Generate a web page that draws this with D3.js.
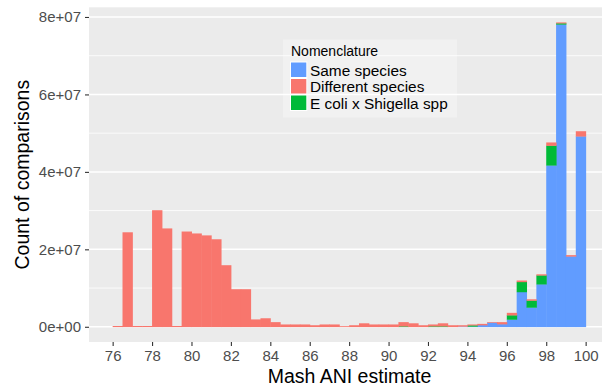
<!DOCTYPE html>
<html>
<head>
<meta charset="utf-8">
<script src="https://cdn.jsdelivr.net/npm/d3@7"></script>
<style>
  html, body { margin: 0; padding: 0; background: #ffffff; }
  svg { display: block; }
  text { font-family: "Liberation Sans", Arial, Helvetica, sans-serif; }
</style>
</head>
<body>
<svg id="chart" width="602" height="390"></svg>
<script>
// ---- data (counts in millions of comparisons), bins of width 0.5 ----
const binStarts = [76, 76.5, 77, 77.5, 78, 78.5, 79, 79.5, 80, 80.5, 81, 81.5,
                   82, 82.5, 83, 83.5, 84, 84.5, 85, 85.5, 86, 86.5, 87, 87.5,
                   88, 88.5, 89, 89.5, 90, 90.5, 91, 91.5, 92, 92.5, 93, 93.5,
                   94, 94.5, 95, 95.5, 96, 96.5, 97, 97.5, 98, 98.5, 99, 99.5];
const binWidth = 0.5;

const sameSpecies = [0, 0, 0, 0, 0, 0, 0, 0, 0, 0, 0, 0,
                     0, 0, 0, 0, 0, 0, 0, 0, 0, 0, 0, 0,
                     0, 0, 0, 0, 0, 0, 0, 0, 0, 0, 0, 0.1,
                     0.1, 0.45, 1.1, 0.7, 1.9, 9.0, 5.0, 11.0, 41.7, 78.1, 18.2, 49.2];

const differentSpecies = [0.2, 24.4, 0.2, 0.2, 30.1, 25.4, 0.2, 24.6, 24.1, 23.6, 22.6, 15.9,
                          9.7, 9.7, 1.9, 2.2, 1.2, 0.6, 0.6, 0.6, 0.4, 0.6, 0.6, 0.15,
                          0.4, 0.9, 0.6, 0.6, 0.6, 1.05, 0.9, 0.4, 0.45, 0.75, 0.4, 0.3,
                          0.2, 0.3, 0.1, 0.5, 0.6, 0.35, 0.3, 0.25, 0.8, 0.2, 0.3, 1.3];

const ecoliShigella = [0, 0, 0, 0, 0, 0, 0, 0, 0, 0, 0, 0,
                       0, 0, 0, 0, 0, 0, 0, 0, 0, 0, 0, 0,
                       0, 0, 0, 0, 0, 0.15, 0, 0, 0.15, 0.15, 0, 0,
                       0.3, 0, 0, 0, 1.1, 2.6, 1.8, 2.3, 5.1, 0.3, 0, 0];

const seriesNames = ["Same species", "Different species", "E coli x Shigella spp"];
const seriesColors = ["#619CFF", "#F8766D", "#00BA38"];
const stackOrder = ["Same species", "E coli x Shigella spp", "Different species"]; // bottom to top

const xTicks = [76, 78, 80, 82, 84, 86, 88, 90, 92, 94, 96, 98, 100];
const yTicks = [0, 2e7, 4e7, 6e7, 8e7];
const yTickLabels = ["0e+00", "2e+07", "4e+07", "6e+07", "8e+07"];
const yMinor = [1e7, 3e7, 5e7, 7e7];

// ---- build table ----
const rows = binStarts.map((b, i) => ({
  x0: b, x1: b + binWidth,
  "Same species": sameSpecies[i] * 1e6,
  "Different species": differentSpecies[i] * 1e6,
  "E coli x Shigella spp": ecoliShigella[i] * 1e6
}));
const colorOf = d3.scaleOrdinal().domain(seriesNames).range(seriesColors);

// ---- layout ----
const svg = d3.select("#chart");
const panel = { left: 89, right: 602, top: 7.3, bottom: 342 };

const x = d3.scaleLinear().domain([74.8, 100.83]).range([panel.left, panel.right]);
const y = d3.scaleLinear().domain([-3.93e6, 82.5e6]).range([panel.bottom, panel.top]);

// panel background
svg.append("rect")
  .attr("x", panel.left).attr("y", panel.top)
  .attr("width", panel.right - panel.left).attr("height", panel.bottom - panel.top)
  .attr("fill", "#EBEBEB");

// gridlines
svg.append("g").selectAll("line").data(yMinor).join("line")
  .attr("x1", panel.left).attr("x2", panel.right)
  .attr("y1", d => y(d)).attr("y2", d => y(d))
  .attr("stroke", "#ffffff").attr("stroke-width", 0.8);
svg.append("g").selectAll("line").data(yTicks).join("line")
  .attr("x1", panel.left).attr("x2", panel.right)
  .attr("y1", d => y(d)).attr("y2", d => y(d))
  .attr("stroke", "#ffffff").attr("stroke-width", 1.5);

// stacked bars (tiny horizontal overlap hides anti-alias seams between adjacent bins)
const stack = d3.stack().keys(stackOrder);
const layers = stack(rows);
svg.append("g")
  .selectAll("g").data(layers).join("g")
  .attr("fill", d => colorOf(d.key))
  .selectAll("rect").data(d => d.filter(s => s[1] - s[0] > 0)).join("rect")
  .attr("x", d => x(d.data.x0))
  .attr("width", d => x(d.data.x1) - x(d.data.x0) + 0.5)
  .attr("y", d => y(d[1]))
  .attr("height", d => y(d[0]) - y(d[1]) + 0.3);

// axes
const xAxis = d3.axisBottom(x).tickValues(xTicks).tickSize(4).tickPadding(4).tickFormat(d3.format("d"));
const gx = svg.append("g").attr("transform", `translate(0,${panel.bottom})`).call(xAxis);
gx.select(".domain").remove();
gx.selectAll(".tick line").attr("stroke", "#333333").attr("stroke-width", 1.1);
gx.selectAll(".tick text").attr("fill", "#4D4D4D").attr("font-size", 15)
  .attr("font-family", "'Liberation Sans', Arial, sans-serif");

const yAxis = d3.axisLeft(y).tickValues(yTicks).tickSize(4).tickPadding(4)
  .tickFormat((d, i) => yTickLabels[i]);
const gy = svg.append("g").attr("transform", `translate(${panel.left},0)`).call(yAxis);
gy.select(".domain").remove();
gy.selectAll(".tick line").attr("stroke", "#333333").attr("stroke-width", 1.1);
gy.selectAll(".tick text").attr("fill", "#4D4D4D").attr("font-size", 15)
  .attr("font-family", "'Liberation Sans', Arial, sans-serif");

// axis titles
svg.append("text")
  .attr("x", (panel.left + panel.right) / 2 + 4).attr("y", 383)
  .attr("text-anchor", "middle").attr("font-size", 19.5).attr("fill", "#000")
  .text("Mash ANI estimate");
svg.append("text")
  .attr("transform", `translate(29, ${(panel.top + panel.bottom) / 2}) rotate(-90)`)
  .attr("text-anchor", "middle").attr("font-size", 19.5).attr("fill", "#000")
  .text("Count of comparisons");

// legend
const lg = svg.append("g");
lg.append("rect").attr("x", 283).attr("y", 39.5).attr("width", 174).attr("height", 78)
  .attr("fill", "#ffffff").attr("fill-opacity", 0.3);
lg.append("text").attr("x", 291).attr("y", 56).attr("font-size", 14).attr("fill", "#000")
  .text("Nomenclature");
const keyY = [61.5, 78, 94.5];
const items = lg.selectAll("g.item").data(seriesNames).join("g").attr("class", "item")
  .attr("transform", (d, i) => `translate(290, ${keyY[i]})`);
items.append("rect").attr("width", 17.3).attr("height", 16.5).attr("fill", "#ffffff");
items.append("rect").attr("x", 1).attr("y", 1).attr("width", 15.3).attr("height", 14.5)
  .attr("fill", d => colorOf(d));
items.append("text").attr("x", 20).attr("y", 14).attr("font-size", 15.4).attr("fill", "#000")
  .text(d => d);
</script>
</body>
</html>
